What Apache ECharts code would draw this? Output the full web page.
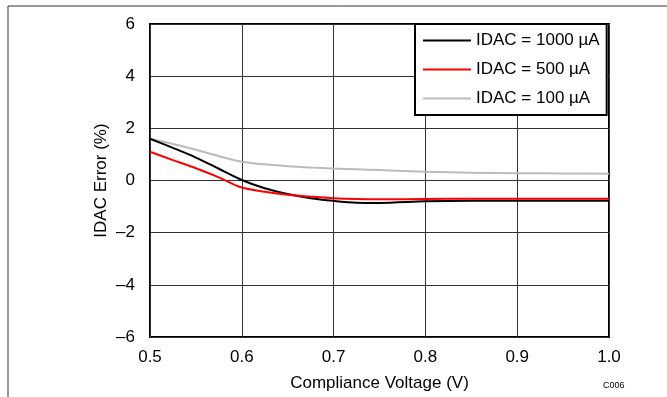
<!DOCTYPE html>
<html>
<head>
<meta charset="utf-8">
<script src="https://cdn.jsdelivr.net/npm/echarts@6/dist/echarts.min.js"></script>
<style>html,body{margin:0;padding:0;background:#fff;}#c{width:667px;height:397px;}</style>
</head>
<body>
<div id="c"></div>
<script>
const voltage = [0.50,0.525,0.55,0.575,0.60,0.625,0.65,0.675,0.70,0.725,0.75,0.80,0.85,0.90,0.95,1.00];
const idac1000 = [1.60,1.25,0.88,0.45,0.02,-0.30,-0.52,-0.68,-0.78,-0.85,-0.86,-0.80,-0.78,-0.78,-0.78,-0.78];
const idac500  = [1.10,0.78,0.47,0.12,-0.27,-0.43,-0.55,-0.62,-0.68,-0.71,-0.72,-0.71,-0.70,-0.70,-0.70,-0.70];
const idac100  = [1.60,1.40,1.18,0.93,0.72,0.62,0.55,0.50,0.46,0.43,0.40,0.34,0.30,0.28,0.27,0.26];
const seriesNames = ['IDAC = 1000 µA','IDAC = 500 µA','IDAC = 100 µA'];
const xTicks = {min:0.5,max:1.0,interval:0.1};
const yTicks = {min:-6,max:6,interval:2};

const pair = arr => voltage.map((v,i)=>[v,arr[i]]);
const font = 'Liberation Sans, Arial, sans-serif';
const fs = 17;
const chart = echarts.init(document.getElementById('c'));
chart.setOption({
  animation:false,
  backgroundColor:'#fff',
  textStyle:{fontFamily:font},
  grid:{left:150,right:58,top:24,bottom:60,show:true,borderColor:'#000',borderWidth:2,backgroundColor:'transparent'},
  xAxis:{type:'value',min:xTicks.min,max:xTicks.max,interval:xTicks.interval,
    name:'Compliance Voltage (V)',nameLocation:'middle',nameGap:38,
    nameTextStyle:{fontSize:fs,color:'#000',fontFamily:font},
    axisLine:{show:false},axisTick:{show:false},
    axisLabel:{fontSize:fs,color:'#000',margin:12,fontFamily:font,formatter:v=>v.toFixed(1)},
    splitLine:{show:true,lineStyle:{color:'#333',width:1}}},
  yAxis:{type:'value',min:yTicks.min,max:yTicks.max,interval:yTicks.interval,
    name:'IDAC Error (%)',nameLocation:'middle',nameGap:40,nameMoveOverlap:false,
    nameTextStyle:{fontSize:fs,color:'#000',fontFamily:font},
    axisLine:{show:false},axisTick:{show:false},
    axisLabel:{fontSize:fs,color:'#000',margin:15,fontFamily:font,formatter:v=>v<0?'\u2013'+Math.abs(v):String(v)},
    splitLine:{show:true,lineStyle:{color:'#333',width:1}}},
  legend:{orient:'vertical',left:415,top:24,itemWidth:48,itemHeight:2,itemGap:12,icon:'rect',
    padding:[8,7,8,8],borderColor:'#000',borderWidth:2,backgroundColor:'#fff',
    textStyle:{fontSize:fs,color:'#000',fontFamily:font},
    data:seriesNames},
  graphic:[
    {type:'line',shape:{x1:8,y1:6,x2:667,y2:6},style:{stroke:'#333',lineWidth:1}},
    {type:'line',shape:{x1:8,y1:6,x2:8,y2:397},style:{stroke:'#333',lineWidth:1}},
    {type:'text',left:603,top:381,style:{text:'C006',fontSize:9,fill:'#000',fontFamily:font}}
  ],
  series:[
    {name:seriesNames[0],type:'line',data:pair(idac1000),smooth:0.3,symbol:'none',lineStyle:{color:'#000',width:2},itemStyle:{color:'#000'},z:4},
    {name:seriesNames[1],type:'line',data:pair(idac500),smooth:0.3,symbol:'none',lineStyle:{color:'#ff0000',width:2},itemStyle:{color:'#ff0000'},z:5},
    {name:seriesNames[2],type:'line',data:pair(idac100),smooth:0.3,symbol:'none',lineStyle:{color:'#bbbbbb',width:2},itemStyle:{color:'#bbbbbb'},z:3}
  ]
});
</script>
</body>
</html>
